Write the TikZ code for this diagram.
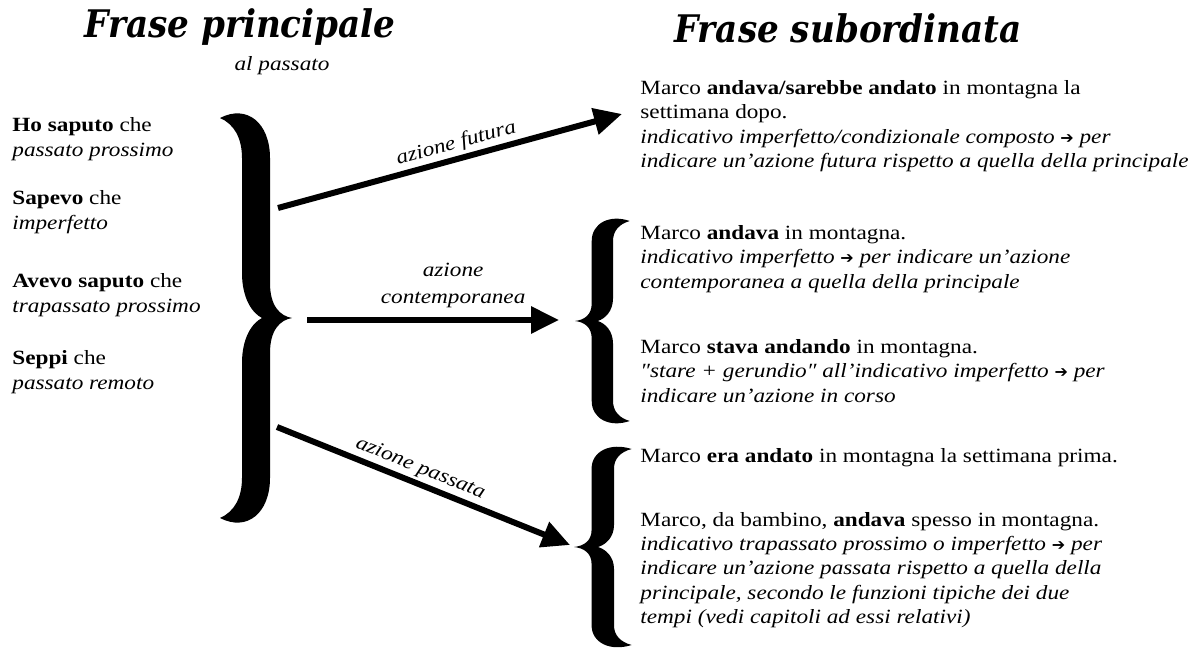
\documentclass[tikz,border=0pt]{standalone}
\usepackage{fontspec}
\setmainfont{Liberation Serif}[FakeStretch=1.15]
\newfontfamily\headfont{DejaVu Serif}[FakeStretch=0.9]
\newfontfamily\arrowfont{DejaVu Sans}
\usetikzlibrary{arrows.meta,positioning}

\newcommand{\tto}{{\upshape\arrowfont\fontsize{8}{8}\selectfont ➔}}

\tikzset{
    bigbrace/.pic={
        \fill (-72,-200) .. controls (-45,-214) and (-22,-195) .. (-22,-160)
            -- (-22,-35) .. controls (-22,-12) and (-12,-2) .. (0,0)
            .. controls (-12,2) and (-22,12) .. (-22,35)
            -- (-22,160) .. controls (-22,195) and (-45,214) .. (-72,200)
            .. controls (-58,194) and (-50,180) .. (-50,160)
            -- (-50,45) .. controls (-50,20) and (-40,5) .. (-30,0)
            .. controls (-40,-5) and (-50,-20) .. (-50,-45)
            -- (-50,-160) .. controls (-50,-180) and (-58,-194) .. (-72,-200) -- cycle;
    }
}

\begin{document}
\begin{tikzpicture}[x=0.5pt,y=-0.5pt,
    body/.style={font=\fontsize{10.1}{12.2}\selectfont, align=left, anchor=west, inner sep=0pt},
    head/.style={font=\headfont\bfseries\itshape\fontsize{19}{22}\selectfont, inner sep=0pt},
    lbl/.style={font=\itshape\fontsize{10.1}{13.5}\selectfont, inner sep=1.5pt},
    bigarrow/.style={line width=3pt, -{Triangle[length=14pt,width=13pt]}}]
    \fill[white] (0,0) rectangle (1195,656);
    \useasboundingbox (0,0) rectangle (1195,656);

    % titoli
    \node[head] (princ) at (240,27) {Frase principale};
    \node[head] (subord) at (848,28) {Frase subordinata};
    \node[lbl] (alpass) at (282,66) {al passato};

    % principale
    \node[body] (hosap) at (12,139) {\textbf{Ho saputo} che\\\textit{passato prossimo}};
    \node[body] (sapevo) at (12,212) {\textbf{Sapevo} che\\\textit{imperfetto}};
    \node[body] (avevo) at (12,295) {\textbf{Avevo saputo} che\\\textit{trapassato prossimo}};
    \node[body] (seppi) at (12,372) {\textbf{Seppi} che\\\textit{passato remoto}};

    % parentesi
    \pic at (292,318) {bigbrace};
    \pic[xscale=-0.76,yscale=0.5] at (575,321) {bigbrace};
    \pic[xscale=-0.8,yscale=0.49] at (574,547) {bigbrace};

    % frecce
    \coordinate (futA) at (278,208);
    \coordinate (futB) at (622,114);
    \coordinate (conA) at (307,320);
    \coordinate (conB) at (559,320);
    \coordinate (pasA) at (277,427);
    \coordinate (pasB) at (570,545);
    \draw[bigarrow] (futA) -- node[lbl,sloped,above,pos=0.53] (lfut) {azione futura} (futB);
    \draw[bigarrow] (conA) -- node[lbl,above=3pt,pos=0.58,align=center] (lcon) {azione\\contemporanea} (conB);
    \draw[bigarrow] (pasA) -- node[lbl,sloped,above,pos=0.47] (lpas) {azione passata} (pasB);

    % subordinata
    \node[body] (futura) at (640,126) {Marco \textbf{andava/sarebbe andato} in montagna la\\
        settimana dopo.\\
        \textit{indicativo imperfetto/condizionale composto \tto{} per}\\
        \textit{indicare un'azione futura rispetto a quella della principale}};
    \node[body] (contA) at (640,259) {Marco \textbf{andava} in montagna.\\
        \textit{indicativo imperfetto \tto{} per indicare un'azione}\\
        \textit{contemporanea a quella della principale}};
    \node[body] (contB) at (640,371) {Marco \textbf{stava andando} in montagna.\\
        \textit{″stare + gerundio″ all'indicativo imperfetto \tto{} per}\\
        \textit{indicare un'azione in corso}};
    \node[body] (passA) at (640,458) {Marco \textbf{era andato} in montagna la settimana prima.};
    \node[body] (passB) at (640,570) {Marco, da bambino, \textbf{andava} spesso in montagna.\\
        \textit{indicativo trapassato prossimo o imperfetto \tto{} per}\\
        \textit{indicare un'azione passata rispetto a quella della}\\
        \textit{principale, secondo le funzioni tipiche dei due}\\
        \textit{tempi (vedi capitoli ad essi relativi)}};
\end{tikzpicture}
\end{document}
